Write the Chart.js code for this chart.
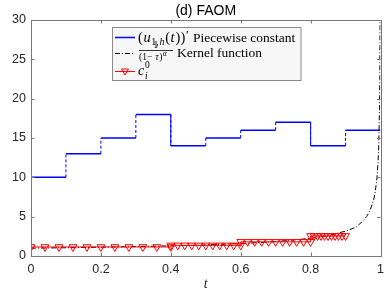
<!DOCTYPE html>
<html>
<head>
<meta charset="utf-8">
<script src="https://cdn.jsdelivr.net/npm/chart.js@4.4.1/dist/chart.umd.min.js"></script>
<style>
  html, body { margin: 0; padding: 0; background: #fff; }
  #wrap { width: 390px; height: 293px; }
</style>
</head>
<body>
<div id="wrap"><canvas id="faomChart" width="390" height="293"></canvas></div>
<script>
// piecewise constant (u_{1,h}(t))'
const stepT = [0, 0.1, 0.2, 0.3, 0.4, 0.5, 0.6, 0.7, 0.8, 0.9, 1.0];
const stepVals = [10, 13, 15, 18, 14, 15, 16, 17, 14, 16];

// kernel 1/(1-tau)^alpha
const kernelT = [0, 0.1, 0.2, 0.3, 0.4, 0.5, 0.6, 0.7, 0.8, 0.85, 0.9, 0.93, 0.95, 0.96, 0.97, 0.98, 0.985, 0.99, 0.993, 0.995, 0.997, 0.998, 0.999, 0.9995];
const kernelVals = [1.0, 1.05, 1.12, 1.2, 1.29, 1.41, 1.58, 1.83, 2.24, 2.58, 3.16, 3.65, 4.47, 5.0, 5.77, 7.07, 8.16, 10.0, 11.95, 14.1, 18.3, 22.4, 31.6, 44.7];

// c_i^0 markers
const cT = [0, 0.04, 0.08, 0.12, 0.16, 0.2, 0.24, 0.28, 0.32, 0.36, 0.4,
  0.4, 0.42, 0.44, 0.46, 0.48, 0.5, 0.52, 0.54, 0.56, 0.58, 0.6,
  0.6, 0.62, 0.64, 0.66, 0.68, 0.7, 0.72, 0.74, 0.76, 0.78, 0.8,
  0.8, 0.81, 0.82, 0.83, 0.84, 0.85, 0.86, 0.87, 0.88, 0.89, 0.9];
const cVals = [1.15, 1.15, 1.15, 1.15, 1.15, 1.15, 1.15, 1.15, 1.15, 1.15, 1.15,
  1.35, 1.35, 1.35, 1.35, 1.35, 1.35, 1.35, 1.35, 1.35, 1.35, 1.35,
  1.8, 1.8, 1.8, 1.8, 1.8, 1.8, 1.8, 1.8, 1.8, 1.8, 1.8,
  2.55, 2.55, 2.55, 2.55, 2.55, 2.55, 2.55, 2.55, 2.55, 2.55, 2.55];

const xTicks = [0, 0.2, 0.4, 0.6, 0.8, 1];
const yTicks = [0, 5, 10, 15, 20, 25, 30];

const stepPoints = [];
stepVals.forEach((v, i) => {
    stepPoints.push({ x: stepT[i], y: v });
    stepPoints.push({ x: stepT[i + 1], y: v });
});
const kernelPoints = kernelT.map((t, i) => ({ x: t, y: kernelVals[i] }));
const cPoints = cT.map((t, i) => ({ x: t, y: cVals[i] }));

const AXIS_COLOR = '#777';
const TEXT_COLOR = '#262626';
const SERIF = '"Liberation Serif", "Times New Roman", serif';

// draw a list of text runs, each with its own size / style / vertical shift
function drawRuns(ctx, x, y, runs) {
    runs.forEach(r => {
        ctx.font = (r.italic ? 'italic ' : '') + r.size + 'px ' + SERIF;
        ctx.fillText(r.text, x, y + (r.dy || 0));
        x += ctx.measureText(r.text).width + (r.gap || 0);
    });
    return x;
}

function downTriangle(ctx, cx, cy, r) {
    ctx.beginPath();
    ctx.moveTo(cx - r * 0.866, cy - r * 0.5);
    ctx.lineTo(cx + r * 0.866, cy - r * 0.5);
    ctx.lineTo(cx, cy + r);
    ctx.closePath();
    ctx.stroke();
}

const framePlugin = {
    id: 'frame',
    afterDraw(chart) {
        const ctx = chart.ctx;
        const a = chart.chartArea;
        const xs = chart.scales.x, ys = chart.scales.y;
        ctx.save();
        // box
        ctx.strokeStyle = AXIS_COLOR;
        ctx.lineWidth = 1;
        ctx.strokeRect(Math.round(a.left) + 0.5, Math.round(a.top) + 0.5,
            Math.round(a.right - a.left), Math.round(a.bottom - a.top));
        // inward ticks on all four sides
        ctx.beginPath();
        xTicks.forEach(t => {
            const px = Math.round(xs.getPixelForValue(t)) + 0.5;
            ctx.moveTo(px, a.bottom); ctx.lineTo(px, a.bottom - 3.5);
            ctx.moveTo(px, a.top); ctx.lineTo(px, a.top + 3.5);
        });
        yTicks.forEach(v => {
            const py = Math.round(ys.getPixelForValue(v)) + 0.5;
            ctx.moveTo(a.left, py); ctx.lineTo(a.left + 3.5, py);
            ctx.moveTo(a.right, py); ctx.lineTo(a.right - 3.5, py);
        });
        ctx.stroke();

        // title
        ctx.fillStyle = '#000';
        ctx.font = '14px "Liberation Sans", Arial, sans-serif';
        ctx.textAlign = 'center';
        ctx.textBaseline = 'middle';
        ctx.fillText('(d) FAOM', (a.left + a.right) / 2, 11);

        // x axis label
        ctx.fillStyle = TEXT_COLOR;
        ctx.font = 'italic 14px ' + SERIF;
        ctx.fillText('t', (a.left + a.right) / 2, 284);

        // legend
        const lx = 112, ly = 27, lw = 188.5, lh = 53;
        ctx.fillStyle = '#f6f6f6';
        ctx.fillRect(lx, ly, lw, lh);
        ctx.strokeStyle = '#8a8a8a';
        ctx.strokeRect(lx + 0.5, ly + 0.5, lw, lh);

        ctx.textAlign = 'left';
        ctx.textBaseline = 'alphabetic';
        ctx.fillStyle = '#000';

        // row 1
        ctx.strokeStyle = '#0000ff';
        ctx.lineWidth = 1.5;
        ctx.beginPath(); ctx.moveTo(115, 37.5); ctx.lineTo(135, 37.5); ctx.stroke();
        drawRuns(ctx, 138, 42, [
            { text: '(', size: 14.5, gap: 0.6 },
            { text: 'u', size: 14.5, italic: true, gap: 0.6 },
            { text: '1,', size: 10, dy: 3, gap: 0.6 },
            { text: 'h', size: 10, dy: 3, italic: true, gap: 0.8 },
            { text: '(', size: 14.5, gap: 0.6 },
            { text: 't', size: 14.5, italic: true, gap: 0.8 },
            { text: ')', size: 14.5, gap: 0.3 },
            { text: ')', size: 14.5, gap: 0.5 },
            { text: '\u2032', size: 12.5, dy: -3 }
        ]);
        drawRuns(ctx, 193, 42, [{ text: 'Piecewise constant', size: 13.5 }]);

        // row 2
        ctx.strokeStyle = '#000';
        ctx.lineWidth = 1;
        ctx.setLineDash([5, 2, 1, 2]);
        ctx.beginPath(); ctx.moveTo(115, 53.5); ctx.lineTo(135, 53.5); ctx.stroke();
        ctx.setLineDash([]);
        ctx.lineWidth = 0.8;
        ctx.beginPath(); ctx.moveTo(139, 50.5); ctx.lineTo(173, 50.5); ctx.stroke();
        drawRuns(ctx, 153.5, 48, [{ text: '1', size: 9.5 }]);
        drawRuns(ctx, 139, 59.5, [
            { text: '(1\u2212', size: 9.5, gap: 3 },
            { text: '\u03c4', size: 9.5, italic: true, gap: 0.5 },
            { text: ')', size: 9.5, gap: 0.3 },
            { text: '\u03b1', size: 7.5, dy: -3.5, italic: true }
        ]);
        drawRuns(ctx, 177, 56.5, [{ text: 'Kernel function', size: 13.5 }]);

        // row 3
        ctx.strokeStyle = '#ff0000';
        ctx.lineWidth = 1;
        ctx.beginPath(); ctx.moveTo(115, 71.5); ctx.lineTo(135, 71.5); ctx.stroke();
        downTriangle(ctx, 125, 71, 4);
        ctx.fillStyle = '#000';
        drawRuns(ctx, 138, 75, [{ text: 'c', size: 14, italic: true }]);
        drawRuns(ctx, 145, 68, [{ text: '0', size: 9.5 }]);
        drawRuns(ctx, 145, 79, [{ text: 'i', size: 9.5, italic: true }]);

        ctx.restore();
    }
};

new Chart(document.getElementById('faomChart').getContext('2d'), {
    type: 'line',
    data: {
        datasets: [{
            label: 'Piecewise constant',
            data: stepPoints,
            borderColor: '#0000ff',
            borderWidth: 1.5,
            pointRadius: 0,
            tension: 0,
            order: 3,
            segment: {
                borderDash: c => c.p0.parsed.x === c.p1.parsed.x ? [3, 2] : undefined,
                borderWidth: c => c.p0.parsed.x === c.p1.parsed.x ? 1 : undefined
            }
        }, {
            label: 'Kernel function',
            data: kernelPoints,
            borderColor: '#000',
            borderWidth: 1,
            borderDash: [5, 2, 1, 2],
            pointRadius: 0,
            tension: 0,
            order: 2
        }, {
            label: 'c_i^0',
            data: cPoints,
            borderColor: '#ff0000',
            borderWidth: 1,
            pointStyle: 'triangle',
            rotation: 180,
            pointRadius: 4.5,
            pointBorderColor: '#ff0000',
            pointBackgroundColor: 'rgba(255,255,255,0)',
            pointBorderWidth: 1,
            tension: 0,
            order: 1
        }]
    },
    options: {
        responsive: false,
        animation: false,
        devicePixelRatio: 1,
        layout: { padding: { top: 20, right: 9.5, left: 0, bottom: 0 } },
        plugins: {
            legend: { display: false },
            tooltip: { enabled: false }
        },
        scales: {
            x: {
                type: 'linear',
                min: 0,
                max: 1,
                afterBuildTicks: axis => { axis.ticks = xTicks.map(v => ({ value: v })); },
                afterFit: axis => { axis.height = 37; },
                grid: { display: false, drawTicks: false },
                border: { display: false },
                ticks: {
                    color: TEXT_COLOR,
                    padding: 6,
                    maxRotation: 0,
                    font: { family: '"Liberation Sans", Arial, sans-serif', size: 12.5 },
                    callback: v => String(v)
                }
            },
            y: {
                min: 0,
                max: 30,
                afterBuildTicks: axis => { axis.ticks = yTicks.map(v => ({ value: v })); },
                afterFit: axis => { axis.width = 31; },
                grid: { display: false, drawTicks: false },
                border: { display: false },
                ticks: {
                    color: TEXT_COLOR,
                    padding: 5,
                    font: { family: '"Liberation Sans", Arial, sans-serif', size: 12.5 }
                }
            }
        }
    },
    plugins: [framePlugin]
});
</script>
</body>
</html>
